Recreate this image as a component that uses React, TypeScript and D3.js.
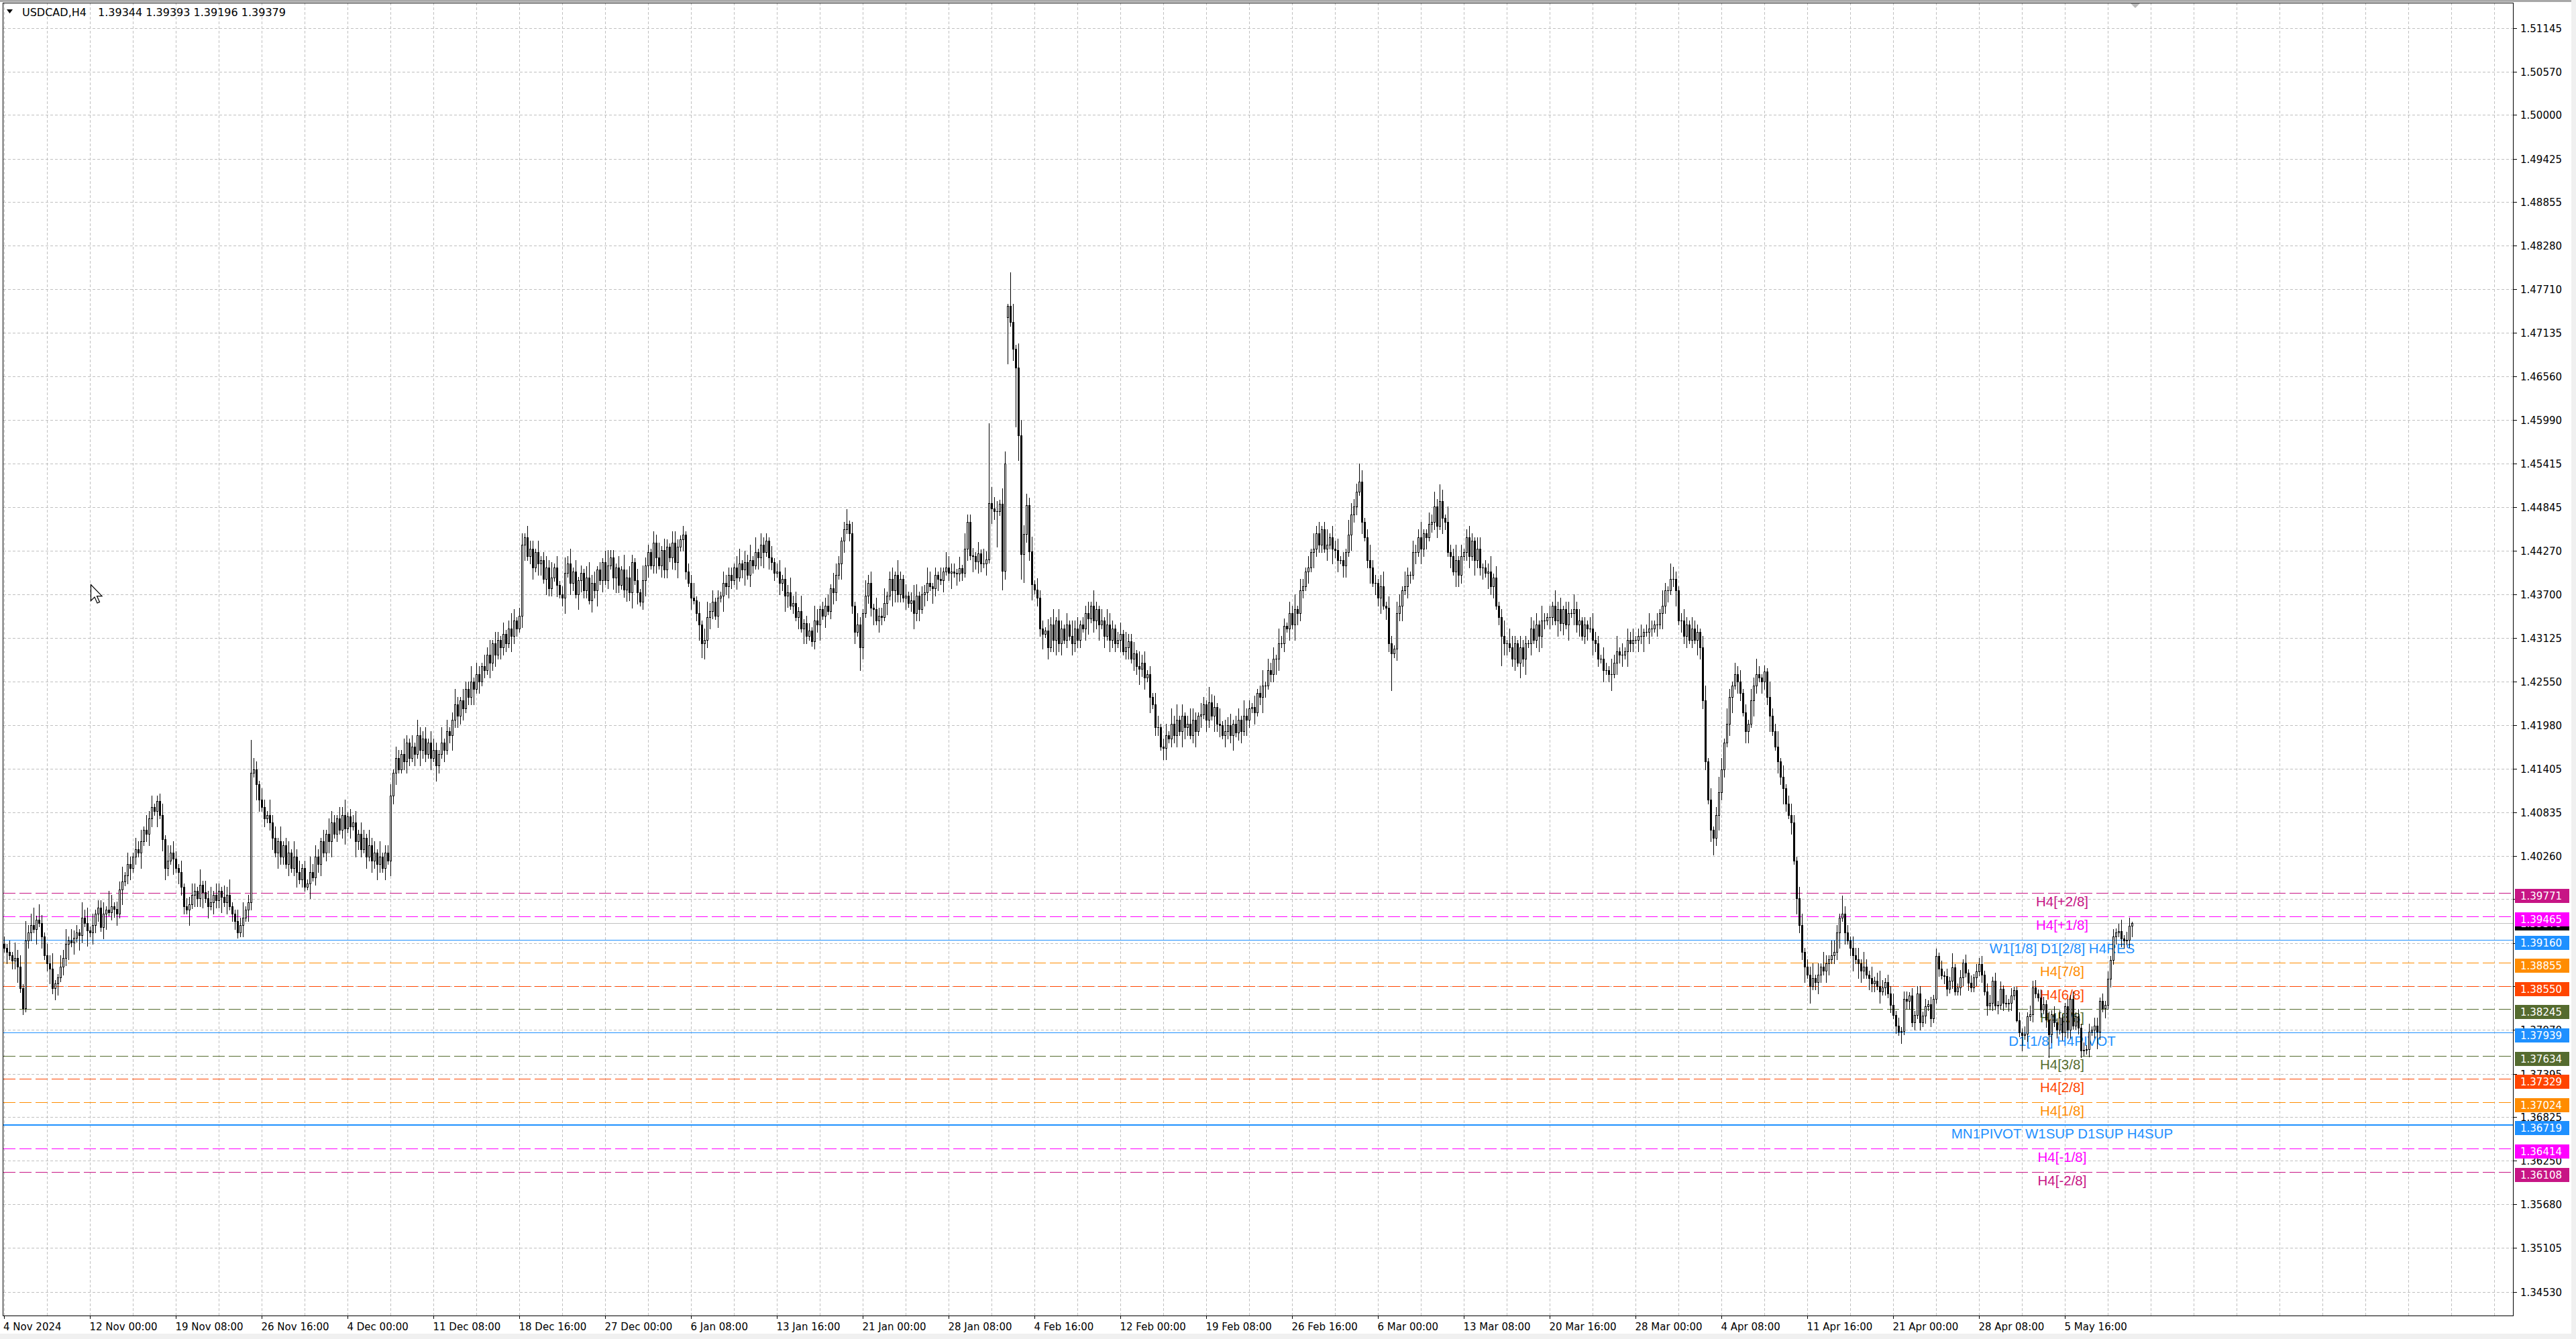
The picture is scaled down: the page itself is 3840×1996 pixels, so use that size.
import React from 'react';
import * as d3 from 'd3';

// ---------------- data ----------------
const symbolTitle = 'USDCAD,H4';
const titleValues = ['1.39344', '1.39393', '1.39196', '1.39379'];

const priceTickLabels = [
  '1.34530', '1.35105', '1.35680', '1.36250', '1.36825', '1.37395', '1.37970', '1.38545', '1.39115', '1.39690',
  '1.40260', '1.40835', '1.41405', '1.41980', '1.42550', '1.43125', '1.43700', '1.44270', '1.44845', '1.45415',
  '1.45990', '1.46560', '1.47135', '1.47710', '1.48280', '1.48855', '1.49425', '1.50000', '1.50570', '1.51145',
];

const dateTickLabels = [
  '4 Nov 2024', '12 Nov 00:00', '19 Nov 08:00', '26 Nov 16:00', '4 Dec 00:00', '11 Dec 08:00', '18 Dec 16:00',
  '27 Dec 00:00', '6 Jan 08:00', '13 Jan 16:00', '21 Jan 00:00', '28 Jan 08:00', '4 Feb 16:00', '12 Feb 00:00',
  '19 Feb 08:00', '26 Feb 16:00', '6 Mar 00:00', '13 Mar 08:00', '20 Mar 16:00', '28 Mar 00:00', '4 Apr 08:00',
  '11 Apr 16:00', '21 Apr 00:00', '28 Apr 08:00', '5 May 16:00',
];
const barsPerDateLabel = 32;
const barsPerGridColumn = 16;

// H4 closes, in pips above 1.0000 (3905 = 1.3905), one per bar
const closePipsText = `
3905 3900 3895 3888 3892 3880 3852 3826 3915 3925
3935 3930 3942 3938 3920 3895 3885 3878 3852 3858
3866 3880 3892 3910 3915 3912 3918 3925 3922 3945
3938 3928 3925 3935 3950 3958 3932 3950 3955 3952
3960 3956 3950 3982 3992 4000 4015 4010 4025 4035
4030 4045 4060 4055 4075 4090 4085 4098 4080 4048
4010 4020 4030 4022 4010 4005 3985 3960 3955 3962
3975 3980 3970 3988 3978 3970 3960 3965 3975 3968
3980 3972 3965 3975 3960 3950 3940 3925 3935 3945
3955 3965 4135 4140 4120 4100 4090 4075 4080 4070
4050 4030 4045 4025 4040 4015 4030 4010 4025 4005
3995 4010 3985 3990 4005 3998 4025 4015 4045 4030
4055 4045 4070 4055 4075 4060 4080 4062 4078 4065
4070 4045 4055 4035 4050 4025 4040 4020 4030 4015
4025 4010 4030 4020 4105 4135 4155 4140 4160 4150
4175 4155 4170 4160 4185 4165 4180 4160 4175 4155
4165 4145 4160 4175 4165 4190 4185 4205 4225 4210
4230 4220 4245 4235 4255 4245 4265 4255 4275 4270
4290 4280 4305 4290 4310 4300 4318 4305 4325 4315
4335 4325 4342 4435 4445 4420 4430 4405 4425 4410
4415 4390 4405 4378 4392 4405 4382 4370 4365 4398
4410 4385 4400 4370 4388 4398 4375 4392 4362 4385
4375 4402 4388 4412 4388 4408 4418 4392 4405 4382
4402 4376 4392 4372 4412 4388 4372 4360 4388 4408
4425 4408 4438 4418 4408 4428 4402 4432 4418 4438
4412 4432 4442 4448 4400 4385 4365 4362 4345 4330
4305 4310 4340 4348 4360 4342 4365 4368 4385 4380
4395 4388 4405 4392 4410 4402 4412 4395 4415 4408
4425 4418 4435 4425 4440 4418 4412 4398 4400 4385
4390 4368 4372 4355 4358 4340 4348 4325 4332 4315
4322 4308 4335 4330 4350 4342 4355 4348 4378 4372
4395 4410 4440 4455 4462 4450 4355 4320 4330 4300
4345 4368 4385 4352 4350 4335 4342 4340 4358 4368
4390 4375 4395 4370 4390 4365 4368 4358 4362 4345
4368 4350 4370 4372 4385 4380 4378 4395 4390 4388
4400 4405 4398 4400 4398 4397 4404 4398 4430 4465
4421 4420 4413 4424 4410 4410 4416 4490 4483 4479
4479 4489 4401 4542 4749 4728 4693 4668 4579 4423
4449 4487 4426 4383 4376 4365 4325 4318 4322 4300
4330 4310 4335 4305 4325 4310 4330 4315 4305 4325
4310 4330 4325 4345 4338 4355 4335 4350 4330 4335
4315 4330 4310 4325 4305 4310 4318 4295 4300 4308
4285 4292 4275 4272 4280 4260 4265 4235 4225 4195
4195 4170 4168 4185 4180 4200 4185 4205 4190 4210
4195 4200 4185 4205 4190 4210 4212 4225 4205 4228
4210 4222 4200 4198 4185 4190 4198 4185 4200 4188
4205 4190 4210 4205 4220 4222 4215 4240 4235 4250
4250 4270 4265 4285 4285 4305 4305 4328 4325 4345
4330 4350 4345 4375 4380 4400 4405 4425 4430 4450
4435 4455 4430 4435 4445 4430 4428 4415 4415 4408
4425 4448 4475 4485 4505 4518 4465 4445 4415 4405
4385 4385 4365 4380 4355 4352 4305 4292 4298 4345
4355 4375 4380 4395 4395 4425 4425 4445 4430 4450
4445 4462 4465 4485 4460 4492 4470 4465 4425 4420
4400 4415 4395 4420 4425 4445 4420 4440 4415 4430
4405 4405 4398 4400 4380 4392 4355 4340 4315 4305
4305 4300 4285 4305 4280 4300 4285 4305 4305 4325
4310 4330 4315 4335 4335 4340 4340 4355 4335 4350
4332 4350 4330 4345 4345 4350 4330 4335 4315 4330
4325 4325 4310 4305 4285 4285 4270 4270 4265 4265
4280 4295 4290 4290 4295 4310 4305 4310 4310 4315
4315 4320 4320 4325 4325 4330 4330 4345 4355 4375
4375 4390 4390 4375 4335 4335 4315 4330 4310 4325
4310 4320 4300 4230 4150 4100 4060 4050 4080 4110
4140 4175 4200 4235 4250 4265 4255 4240 4215 4190
4200 4230 4250 4265 4260 4255 4268 4235 4210 4190
4170 4150 4130 4115 4095 4080 4070 4020 3970 3935
3900 3880 3870 3855 3865 3860 3870 3880 3875 3885
3890 3895 3900 3925 3945 3950 3925 3915 3905 3895
3890 3885 3875 3880 3870 3865 3858 3862 3855 3848
3853 3860 3845 3830 3817 3803 3795 3796 3838 3835
3842 3807 3817 3845 3807 3816 3828 3831 3812 3838
3894 3878 3869 3868 3851 3862 3879 3848 3853 3866
3886 3872 3859 3853 3866 3874 3884 3870 3848 3829
3833 3862 3829 3830 3851 3833 3832 3833 3842 3849
3810 3794 3790 3792 3815 3818 3853 3845 3840 3824
3831 3811 3791 3818 3807 3797 3813 3794 3828 3797
3838 3803 3815 3800 3770 3771 3772 3795 3797 3803
3795 3835 3826 3830 3864 3889 3920 3925 3927 3917
3915 3916 3934 3937.9
`;

const firstOpenPips = 3910;
const gapOpenPips: Record<number, number> = { 374: 4734, 793: 3934.4 };

// wick lengths per bar, one digit each, in wick units
const upperWickText = `
2131423152 3214213241 1324132214 2413122315 3122413213 2314231423 1423213122 3214132413 2132411324 1243213214
2314123142 3121423213 1432132412 2313214231 4122313214 2131422313 3214131242 1322413213 2413213124 3124132213
1232413124 2413121342 3121342213 1423213142 2132413213 3214122413 1342312132 2213413241 4132213123 1324231412
2143122314 3212413132 1423132241 2314213124 3122431213 1432213142 2213142313 3142213124 1324132213 2413213142
3122314213 1432123142 2314231213 3123142413 1243213214 2314132312 3142213124 1323142213 2413213142 3124132312
1432213124 2213413213 3142132241 1324213142 2413123213 3122413124 1432132213 2314213142 3123142312 1342213214
2413132312 3124213142 1432123213 2213413124 3142132312 1324213142 2413123213 3122413142 1432132213 2314213124
2122312122 1212212121 2121212112 1212121212 2121212121 1212121212 2121212112 1212121212 2121212121 1212
`;
const lowerWickText = `
1312241312 2141312423 3122413142 1413221341 2231412312 1412321413 3214132214 1322413132 2413122413 1321431212
3142213124 1213412231 2341212413 1422131324 2131423112 3213142213 1421312423 2312241312 1423132214 2213412313
3142213124 1321432213 2413121342 1232413124 3124132213 2413213124 1423213142 3213124132 1324132213 2431213142
1322413123 2143122314 3122413213 1432213124 2313214231 3124132213 1423213142 2132413213 3214122413 1342312132
2213413241 3132213123 1324231412 2143122314 3212413132 1423132241 2314213124 3122431213 1432213142 2213142313
3142213124 1324132213 2413213142 3122314213 1432123142 2314231213 3123142413 1243213214 2314132312 3142213124
1323142213 2413213142 3124132312 1432213124 2213413213 3142132241 1324213142 2413123213 3122413124 1432132213
1212121212 2121212121 1212212112 2121121212 1212121221 2121212112 1212121212 2112121212 1212121212 2121
`;
const wickUnitPips = 5;

// extremes (pips)
const highPips: Record<number, number> = {
  11: 3958, 57: 4105, 92: 4178, 193: 4450, 253: 4460, 284: 4450, 314: 4482, 367: 4595, 368: 4511, 370: 4492,
  373: 4558, 374: 4752, 375: 4793, 376: 4752, 378: 4700, 380: 4461, 381: 4502, 505: 4542, 535: 4514, 622: 4406,
  656: 4276, 685: 3974, 720: 3904, 726: 3898, 730: 3890, 736: 3892, 755: 3829, 756: 3862, 787: 3931, 789: 3942,
  792: 3945, 793: 3939.3,
};
const lowPips: Record<number, number> = {
  7: 3818, 18: 3845, 87: 3918, 113: 3982, 260: 4287, 301: 4302, 319: 4270, 370: 4432, 372: 4376, 373: 4390,
  374: 4673, 377: 4590, 378: 4546, 379: 4390, 380: 4386, 382: 4415, 432: 4153, 517: 4244, 558: 4276, 599: 4244,
  637: 4028, 673: 3833, 707: 3780, 724: 3842, 739: 3817, 750: 3808, 752: 3770, 762: 3761, 773: 3792, 774: 3761,
  775: 3763, 780: 3773, 783: 3813, 791: 3909, 793: 3919.6,
};

const bidPrice = 1.39379;

const levelPrices = [1.39771, 1.39465, 1.3916, 1.38855, 1.3855, 1.38245, 1.37939, 1.37634, 1.37329, 1.37024, 1.36719, 1.36414, 1.36108];
const levelNames = [
  'H4[+2/8]', 'H4[+1/8]', 'W1[1/8] D1[2/8] H4RES', 'H4[7/8]', 'H4[6/8]', 'H4[5/8]', 'D1[1/8] H4PIVOT',
  'H4[3/8]', 'H4[2/8]', 'H4[1/8]', 'MN1PIVOT W1SUP D1SUP H4SUP', 'H4[-1/8]', 'H4[-2/8]',
];

// ---------------- styles ----------------
const levelColors = ['#C71585', '#FF00FF', '#1E90FF', '#FF8C00', '#FF4500', '#556B2F', '#1E90FF', '#556B2F', '#FF4500', '#FF8C00', '#1E90FF', '#FF00FF', '#C71585'];
const levelSolid = [false, false, true, false, false, false, true, false, false, false, true, false, false];
const levelWidths = [1, 1, 1, 1, 1, 1, 1, 1, 1, 1, 2, 1, 1];

const W = 3840;
const H = 1996;
const plotL = 5;
const plotR = 3746;
const plotT = 4;
const plotB = 1961;
const AXIS_FONT = "'DejaVu Sans', Verdana, sans-serif";
const LABEL_FONT = "'Liberation Sans', Arial, sans-serif";

function digits(s: string): number[] {
  return s.replace(/\s+/g, '').split('').map(Number);
}

export default function App() {
  const closes = closePipsText.trim().split(/\s+/).map(Number);
  const up = digits(upperWickText);
  const dn = digits(lowerWickText);

  const bars = closes.map((c, i) => {
    const o = gapOpenPips[i] ?? (i === 0 ? firstOpenPips : closes[i - 1]);
    const top = Math.max(o, c);
    const bot = Math.min(o, c);
    const h = Math.max(top, highPips[i] ?? top + (up[i] ?? 1) * wickUnitPips);
    const l = Math.min(bot, lowPips[i] ?? bot - (dn[i] ?? 1) * wickUnitPips);
    return { o: 1 + o / 10000, h: 1 + h / 10000, l: 1 + l / 10000, c: 1 + c / 10000 };
  });

  const y = d3.scaleLinear().domain([1.3453, 1.51145]).range([1925.5, 41.6]);
  const x = d3.scaleLinear().domain([0, 1]).range([6, 10]);

  const gridCols: number[] = [];
  for (let k = 0; ; k++) {
    const gx = Math.floor(x(k * barsPerGridColumn)) + 0.5;
    if (gx >= plotR) break;
    gridCols.push(gx);
  }

  const ry = (p: number) => Math.round(y(p));

  return (
    <svg
      width={W}
      height={H}
      viewBox={`0 0 ${W} ${H}`}
      style={{ position: 'absolute', left: 0, top: 0, display: 'block', background: '#fff' }}
    >
      <rect x={0} y={0} width={W} height={H} fill="#ffffff" />
      {/* window chrome */}
      <rect x={0} y={0} width={W} height={3} fill="#A8A8A8" />
      <rect x={0} y={1988} width={W} height={8} fill="#F0F0F0" />
      <rect x={3833} y={0} width={7} height={H} fill="#F0F0F0" />

      {/* grid */}
      <g stroke="#C0C0C0" strokeWidth={1} strokeDasharray="4,3" shapeRendering="crispEdges">
        {priceTickLabels.map((t) => {
          const gy = ry(+t) + 0.5;
          return <line key={'h' + t} x1={plotL} x2={plotR} y1={gy} y2={gy} />;
        })}
        {gridCols.map((gx) => (
          <line key={'v' + gx} x1={gx} x2={gx} y1={plotT} y2={plotB} />
        ))}
      </g>

      {/* level lines */}
      <g shapeRendering="crispEdges">
        {levelPrices.map((p, i) => {
          const ly = ry(p) + (levelWidths[i] === 2 ? 0 : 0.5);
          return (
            <line
              key={'lv' + i}
              x1={plotL}
              x2={plotR}
              y1={ly}
              y2={ly}
              stroke={levelColors[i]}
              strokeWidth={levelWidths[i]}
              strokeDasharray={levelSolid[i] ? undefined : '18,6'}
            />
          );
        })}
        <line x1={plotL} x2={plotR} y1={ry(bidPrice) + 0.5} y2={ry(bidPrice) + 0.5} stroke="#C0C0C0" strokeWidth={1} />
      </g>

      {/* level labels */}
      <g fontFamily={LABEL_FONT} fontSize={20.5} textAnchor="middle">
        {levelPrices.map((p, i) => (
          <text key={'lt' + i} x={3074} y={ry(p) + 20} fill={levelColors[i]}>
            {levelNames[i]}
          </text>
        ))}
      </g>

      {/* candles */}
      <g shapeRendering="crispEdges">
        {bars.map((b, i) => {
          const px = Math.floor(x(i));
          const cx = px + 0.5;
          const yh = ry(b.h);
          const yl = ry(b.l);
          const yTop = ry(Math.max(b.o, b.c));
          const yBot = ry(Math.min(b.o, b.c));
          const bull = b.c >= b.o;
          return (
            <g key={'c' + i}>
              <line x1={cx} x2={cx} y1={yh} y2={yl + 1} stroke="#000" strokeWidth={1} />
              {yBot - yTop < 1 ? (
                <line x1={px - 1} x2={px + 2} y1={yTop + 0.5} y2={yTop + 0.5} stroke="#000" strokeWidth={1} />
              ) : (
                <rect
                  x={px - 0.5}
                  y={yTop + 0.5}
                  width={2}
                  height={yBot - yTop}
                  fill={bull ? '#ffffff' : '#000000'}
                  stroke="#000"
                  strokeWidth={1}
                />
              )}
            </g>
          );
        })}
      </g>

      {/* frame */}
      <g shapeRendering="crispEdges" fill="none" stroke="#000" strokeWidth={1}>
        <line x1={plotL - 0.5} x2={plotL - 0.5} y1={plotT} y2={plotB} />
        <line x1={plotL} x2={plotR} y1={plotT + 0.5} y2={plotT + 0.5} />
        <line x1={plotR + 0.5} x2={plotR + 0.5} y1={plotT} y2={plotB + 1} />
        <line x1={plotL - 1} x2={plotR + 1} y1={plotB + 0.5} y2={plotB + 0.5} />
      </g>

      {/* chart shift marker */}
      <polygon points="3176,5 3190,5 3183,12" fill="#B8B8B8" />

      {/* title */}
      <polygon points="10,14 19,14 14.5,20" fill="#000" />
      <text x={33} y={24} fontFamily={AXIS_FONT} fontSize={16} fill="#000">
        {symbolTitle}
      </text>
      <text x={146} y={24} fontFamily={AXIS_FONT} fontSize={16} fill="#000">
        {titleValues.join(' ')}
      </text>

      {/* price axis */}
      <g fontFamily={AXIS_FONT} fontSize={15} fill="#000">
        {priceTickLabels.map((t) => {
          const gy = ry(+t) + 0.5;
          return (
            <g key={'pt' + t}>
              <line x1={plotR + 1} x2={plotR + 6} y1={gy} y2={gy} stroke="#000" shapeRendering="crispEdges" />
              <text x={3757} y={gy + 5.5}>{t}</text>
            </g>
          );
        })}
      </g>

      {/* bid label */}
      <g fontFamily={AXIS_FONT} fontSize={15}>
        <rect x={3749} y={ry(bidPrice) - 10} width={81} height={21} fill="#000" />
        <text x={3757} y={ry(bidPrice) + 6} fill="#fff">{bidPrice.toFixed(5)}</text>
      </g>

      {/* level price boxes */}
      <g fontFamily={AXIS_FONT} fontSize={15}>
        {levelPrices.map((p, i) => (
          <g key={'lb' + i}>
            <rect x={3749} y={ry(p) - 6} width={81} height={21} fill={levelColors[i]} />
            <text x={3757} y={ry(p) + 10} fill="#fff">{p.toFixed(5)}</text>
          </g>
        ))}
      </g>

      {/* time axis */}
      <g fontFamily={AXIS_FONT} fontSize={15} fill="#000">
        {dateTickLabels.map((t, k) => {
          const tx = Math.floor(x(k * barsPerDateLabel)) + 0.5;
          return (
            <g key={'dt' + k}>
              <line x1={tx} x2={tx} y1={plotB + 1} y2={plotB + 5} stroke="#000" shapeRendering="crispEdges" />
              <text x={k === 0 ? 5 : tx - 1} y={1983}>{t}</text>
            </g>
          );
        })}
      </g>

      {/* mouse cursor */}
      <path
        d="M135.5,871.5 l0,24 l5.5,-5.5 l4,9 l3.5,-1.6 l-4,-8.8 l7.5,0 z"
        fill="#fff"
        stroke="#000"
        strokeWidth={1.2}
      />
    </svg>
  );
}
